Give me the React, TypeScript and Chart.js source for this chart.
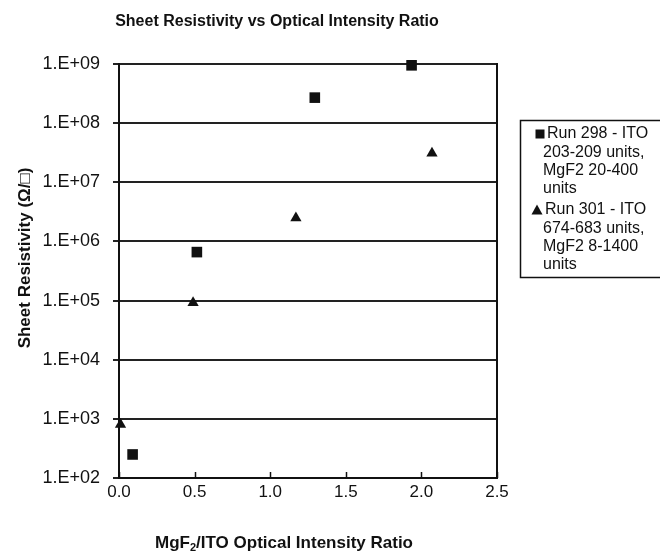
import React, { useEffect, useRef } from 'react';
import { Chart, registerables } from 'chart.js';

Chart.register(...registerables);

const chartTitle = 'Sheet Resistivity vs Optical Intensity Ratio';
const yAxisTitle = 'Sheet Resistivity (Ω/□)';
const xTitleParts = ['MgF', '2', '/ITO Optical Intensity Ratio'];

const run298Lines = ['Run 298 - ITO', '203-209 units,', 'MgF2 20-400', 'units'];
const run298X = [0.09, 0.515, 1.295, 1.935];
const run298Y = [250, 660000, 270000000, 950000000];

const run301Lines = ['Run 301 - ITO', '674-683 units,', 'MgF2 8-1400', 'units'];
const run301X = [0.01, 0.49, 1.17, 2.07];
const run301Y = [800, 92000, 2500000, 31000000];

const yTickValues = [1e2, 1e3, 1e4, 1e5, 1e6, 1e7, 1e8, 1e9];
const yTickLabels = ['1.E+02', '1.E+03', '1.E+04', '1.E+05', '1.E+06', '1.E+07', '1.E+08', '1.E+09'];
const xTickValues = [0, 0.5, 1.0, 1.5, 2.0, 2.5];
const xTickLabels = ['0.0', '0.5', '1.0', '1.5', '2.0', '2.5'];

const FONT = '"Liberation Sans", Arial, Helvetica, sans-serif';
const INK = '#111111';

const decorPlugin = {
  id: 'decor',
  beforeDatasetsDraw(chart: any) {
    const { ctx, chartArea } = chart;
    const xs = chart.scales.x;
    ctx.save();
    ctx.strokeStyle = INK;
    ctx.lineWidth = 2;
    // right border of plot
    ctx.beginPath();
    ctx.moveTo(chartArea.right, chartArea.top - 1);
    ctx.lineTo(chartArea.right, chartArea.bottom + 1);
    ctx.stroke();
    // inward tick marks on x axis
    ctx.lineWidth = 1.5;
    xs.ticks.forEach((t: any) => {
      const px = Math.round(xs.getPixelForValue(t.value)) + 0.5;
      ctx.beginPath();
      ctx.moveTo(px, chartArea.bottom);
      ctx.lineTo(px, chartArea.bottom - 6);
      ctx.stroke();
    });
    ctx.restore();
  },
  afterDraw(chart: any) {
    const { ctx } = chart;
    ctx.save();
    ctx.fillStyle = INK;
    // chart title
    ctx.font = `bold 16px ${FONT}`;
    ctx.textAlign = 'center';
    ctx.textBaseline = 'alphabetic';
    ctx.fillText(chartTitle, 277, 26);

    // x axis title with subscript
    ctx.font = `bold 17px ${FONT}`;
    const subFont = `bold 11px ${FONT}`;
    const w0 = ctx.measureText(xTitleParts[0]).width;
    const w2 = ctx.measureText(xTitleParts[2]).width;
    ctx.font = subFont;
    const w1 = ctx.measureText(xTitleParts[1]).width;
    const total = w0 + w1 + w2;
    let x = 284 - total / 2;
    const base = 548;
    ctx.textAlign = 'left';
    ctx.font = `bold 17px ${FONT}`;
    ctx.fillText(xTitleParts[0], x, base);
    x += w0;
    ctx.font = subFont;
    ctx.fillText(xTitleParts[1], x, base + 3);
    x += w1;
    ctx.font = `bold 17px ${FONT}`;
    ctx.fillText(xTitleParts[2], x, base);

    // y axis title
    ctx.save();
    ctx.translate(30, 258);
    ctx.rotate(-Math.PI / 2);
    ctx.textAlign = 'center';
    ctx.textBaseline = 'alphabetic';
    ctx.font = `bold 17px ${FONT}`;
    ctx.fillText(yAxisTitle, 0, 0);
    ctx.restore();

    // legend box
    ctx.strokeStyle = INK;
    ctx.lineWidth = 1.5;
    ctx.strokeRect(520.5, 120.5, 150, 157);

    ctx.font = `16px ${FONT}`;
    ctx.textAlign = 'left';
    ctx.textBaseline = 'middle';
    const step = 18.3;
    const g1 = 134;
    const g2 = 210;
    // square marker
    ctx.fillRect(535.5, g1 - 4.5, 9, 9);
    run298Lines.forEach((line, i) => {
      ctx.fillText(line, i === 0 ? 547 : 543, g1 + i * step);
    });
    // triangle marker
    ctx.beginPath();
    ctx.moveTo(537, g2 - 5.5);
    ctx.lineTo(542.5, g2 + 4.5);
    ctx.lineTo(531.5, g2 + 4.5);
    ctx.closePath();
    ctx.fill();
    run301Lines.forEach((line, i) => {
      ctx.fillText(line, i === 0 ? 545 : 543, g2 + i * step);
    });
    ctx.restore();
  },
};

export default function App() {
  const canvasRef = useRef<HTMLCanvasElement | null>(null);

  useEffect(() => {
    const canvas = canvasRef.current;
    if (!canvas) return;
    const chart = new Chart(canvas, {
      type: 'scatter',
      data: {
        datasets: [
          {
            label: run298Lines.join(' '),
            data: run298X.map((x, i) => ({ x, y: run298Y[i] })),
            pointStyle: 'rect',
            pointRadius: 7.5,
            backgroundColor: INK,
            borderColor: INK,
            borderWidth: 0,
            clip: false,
          } as any,
          {
            label: run301Lines.join(' '),
            data: run301X.map((x, i) => ({ x, y: run301Y[i] })),
            pointStyle: 'triangle',
            pointRadius: 6.5,
            backgroundColor: INK,
            borderColor: INK,
            borderWidth: 0,
            clip: false,
          } as any,
        ],
      },
      options: {
        animation: false,
        responsive: false,
        devicePixelRatio: 1,
        layout: { padding: { top: 64, right: 163, bottom: 0, left: 0 } },
        plugins: {
          legend: { display: false },
          title: { display: false },
          tooltip: { enabled: false },
        },
        scales: {
          x: {
            type: 'linear',
            min: 0,
            max: 2.5,
            afterFit: (scale: any) => {
              scale.height = 75;
            },
            afterBuildTicks: (scale: any) => {
              scale.ticks = xTickValues.map((value) => ({ value }));
            },
            grid: { display: false, drawTicks: false },
            border: { display: true, color: INK, width: 2 },
            ticks: {
              padding: 4,
              color: INK,
              font: { family: FONT, size: 17 },
              callback: (_v: any, i: number) => xTickLabels[i],
              maxRotation: 0,
            },
          },
          y: {
            type: 'logarithmic',
            min: 1e2,
            max: 1e9,
            afterFit: (scale: any) => {
              scale.width = 119;
            },
            afterBuildTicks: (scale: any) => {
              scale.ticks = yTickValues.map((value) => ({ value }));
            },
            grid: {
              display: true,
              color: '#222222',
              lineWidth: 2,
              drawTicks: true,
              tickLength: 6,
            },
            border: { display: true, color: INK, width: 2 },
            ticks: {
              padding: 13,
              color: INK,
              font: { family: FONT, size: 18 },
              callback: (_v: any, i: number) => yTickLabels[i],
            },
          },
        },
      } as any,
      plugins: [decorPlugin],
    });
    return () => chart.destroy();
  }, []);

  return (
    <canvas
      ref={canvasRef}
      width={660}
      height={553}
      style={{ position: 'fixed', left: 0, top: 0, width: '660px', height: '553px', background: '#ffffff' }}
    />
  );
}
